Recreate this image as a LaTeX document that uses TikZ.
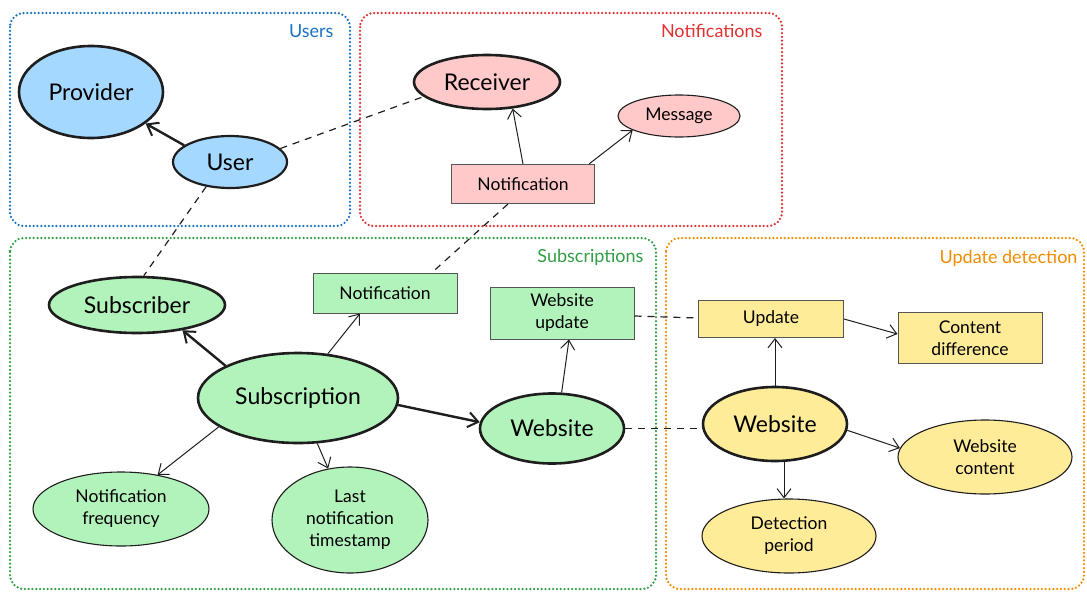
\documentclass[tikz,border=0pt]{standalone}
\usepackage{fontspec}
\setmainfont{Lato}
\usetikzlibrary{shapes.geometric,arrows.meta}
\definecolor{ink}{HTML}{1E1E1E}
\definecolor{boxline}{HTML}{555555}
\definecolor{fblue}{HTML}{A5D8FF}
\definecolor{fred}{HTML}{FFC9C9}
\definecolor{fgreen}{HTML}{B2F2BB}
\definecolor{fyellow}{HTML}{FFEC99}
\definecolor{kblue}{HTML}{1971C2}
\definecolor{kred}{HTML}{E03131}
\definecolor{kgreen}{HTML}{2F9E44}
\definecolor{korange}{HTML}{F08C00}
\tikzset{
  ell/.style={ellipse, draw=ink, inner sep=0pt, align=center},
  bigell/.style={ell, line width=2.6pt, font=\fontsize{23}{26}\selectfont},
  smallell/.style={ell, line width=1.1pt, font=\fontsize{17.5}{22}\selectfont},
  box/.style={rectangle, draw=boxline, line width=1pt, align=center, inner sep=0pt,
    font=\fontsize{17.5}{22}\selectfont},
  frame/.style={rounded corners=14pt, line width=2.5pt, dash pattern=on 0pt off 3.8pt, line cap=round},
  framelabel/.style={anchor=east, font=\fontsize{18}{21}\selectfont},
  arr/.style={draw=ink, line width=1pt, -{Straight Barb[length=9pt,width=14pt,line width=1pt]}},
  thickarr/.style={draw=ink, line width=2.4pt, -{Straight Barb[length=10pt,width=15pt,line width=2pt]}},
  link/.style={draw=ink, line width=1.2pt, dash pattern=on 7pt off 6pt},
}
\begin{document}
\begin{tikzpicture}[x=1pt,y=-1pt]
\useasboundingbox (0,0) rectangle (1087,592);

% group frames
\draw[frame, kblue]   (10,13) rectangle (350,226);
\draw[frame, kred]    (360,13) rectangle (782,226);
\draw[frame, kgreen]  (10,238) rectangle (656,589);
\draw[frame, korange] (666,238) rectangle (1084,589);
\node[framelabel, text=kblue]   (lusers) at (337,31) {Users};
\node[framelabel, text=kred]    (lnotif) at (766,31) {Notifications};
\node[framelabel, text=kgreen]  (lsubs)  at (647,257) {Subscriptions};
\node[framelabel, text=korange] (lupd)   at (1081,258) {Update detection};

% users
\node[bigell, fill=fblue, minimum width=144pt, minimum height=92pt] (provider) at (91,92) {Provider};
\node[bigell, fill=fblue, line width=2.2pt, minimum width=114pt, minimum height=52pt] (user) at (230,162) {User};

% notifications
\node[bigell, fill=fred, minimum width=146pt, minimum height=54pt] (receiver) at (487,82) {Receiver};
\node[smallell, fill=fred, minimum width=122pt, minimum height=42pt] (message) at (679,116) {Message};
\node[box, fill=fred, minimum width=143pt, minimum height=39pt] (notifr) at (523,184) {Notification};

% subscriptions
\node[bigell, fill=fgreen, minimum width=176pt, minimum height=56pt] (subscriber) at (137,305) {Subscriber};
\node[bigell, fill=fgreen, minimum width=200pt, minimum height=90pt] (subscription) at (298,398) {Subscription};
\node[box, fill=fgreen, minimum width=144pt, minimum height=40pt] (notifg) at (385,293) {Notification};
\node[box, fill=fgreen, minimum width=144pt, minimum height=52pt] (wupdate) at (562,313) {Website\\update};
\node[bigell, fill=fgreen, minimum width=144pt, minimum height=70pt] (webg) at (552,428.5) {Website};
\node[smallell, fill=fgreen, minimum width=176pt, minimum height=74pt] (freq) at (121,509) {Notification\\frequency};
\node[smallell, fill=fgreen, minimum width=156pt, minimum height=106pt] (last) at (350,520) {Last\\notification\\timestamp};

% update detection
\node[box, fill=fyellow, minimum width=145pt, minimum height=37pt] (upd) at (771,319) {Update};
\node[box, fill=fyellow, minimum width=144pt, minimum height=51pt] (cdiff) at (970,338) {Content\\difference};
\node[bigell, fill=fyellow, minimum width=144pt, minimum height=74pt] (weby) at (775,424) {Website};
\node[smallell, fill=fyellow, minimum width=174pt, minimum height=74pt] (wcontent) at (985,457) {Website\\content};
\node[smallell, fill=fyellow, minimum width=174pt, minimum height=74pt] (period) at (789,536) {Detection\\period};

% relations
\draw[thickarr] (user.160) -- (provider.-30);
\draw[link] (user.15) -- (receiver.193);
\draw[link] (user.-134) -- (subscriber.77);
\draw[arr] (notifr.north) -- (receiver.-46);
\draw[arr] ([xshift=-6pt]notifr.north east) -- (message.-163);
\draw[link] ([xshift=-15pt]notifr.south) -- ([xshift=47pt]notifg.north);

\draw[thickarr] (subscription.156) -- (subscriber.-29);
\draw[arr] (subscription.56) -- ([xshift=-25pt]notifg.south);
\draw[thickarr] (subscription.-4) -- (webg.175);
\draw[arr] (subscription.-160) -- (freq.43);
\draw[arr] (subscription.-67) -- (last.113);
\draw[arr] (webg.75) -- ([xshift=7pt]wupdate.south);

\draw[link] ([yshift=-3pt]wupdate.east) -- ([yshift=1pt]upd.west);
\draw[link] (webg.east) -- (weby.west |- webg.east);
\draw[arr] (weby.north) -- (weby.north |- upd.south);
\draw[arr] (upd.east) -- ([yshift=4pt]cdiff.west);
\draw[arr] (weby.-5) -- (wcontent.174);
\draw[arr] ([xshift=9pt]weby.south) -- ([xshift=-5pt]period.north);
\end{tikzpicture}
\end{document}
